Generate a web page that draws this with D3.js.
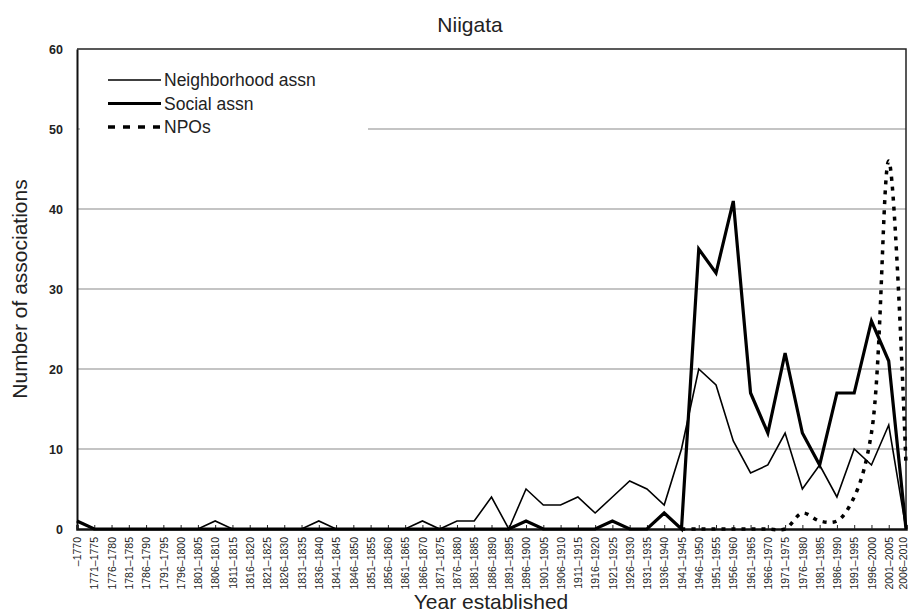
<!DOCTYPE html>
<html>
<head>
<meta charset="utf-8">
<script src="https://cdn.jsdelivr.net/npm/d3@7"></script>
<style>
  html, body { margin: 0; padding: 0; background: #fff; }
  svg { display: block; }
  text { font-family: Arial, "Liberation Sans", Helvetica, sans-serif; fill: #222; }
</style>
</head>
<body>
<svg id="chart" width="908" height="612"></svg>
<script>
const title = "Niigata";
const xTitle = "Year established";
const yTitle = "Number of associations";

const categories = [
  "–1770", "1771–1775", "1776–1780", "1781–1785", "1786–1790", "1791–1795", "1796–1800",
  "1801–1805", "1806–1810", "1811–1815", "1816–1820", "1821–1825", "1826–1830", "1831–1835",
  "1836–1840", "1841–1845", "1846–1850", "1851–1855", "1856–1860", "1861–1865", "1866–1870",
  "1871–1875", "1876–1880", "1881–1885", "1886–1890", "1891–1895", "1896–1900", "1901–1905",
  "1906–1910", "1911–1915", "1916–1920", "1921–1925", "1926–1930", "1931–1935", "1936–1940",
  "1941–1945", "1946–1950", "1951–1955", "1956–1960", "1961–1965", "1966–1970", "1971–1975",
  "1976–1980", "1981–1985", "1986–1990", "1991–1995", "1996–2000", "2001–2005", "2006–2010"
];

const neighborhoodAssn = [
  1, 0, 0, 0, 0, 0, 0, 0, 1, 0, 0, 0, 0, 0, 1, 0, 0, 0, 0, 0, 1, 0, 1, 1, 4,
  0, 5, 3, 3, 4, 2, 4, 6, 5, 3, 10, 20, 18, 11, 7, 8, 12, 5, 8, 4, 10, 8, 13, 0
];

const socialAssn = [
  1, 0, 0, 0, 0, 0, 0, 0, 0, 0, 0, 0, 0, 0, 0, 0, 0, 0, 0, 0, 0, 0, 0, 0, 0,
  0, 1, 0, 0, 0, 0, 1, 0, 0, 2, 0, 35, 32, 41, 17, 12, 22, 12, 8, 17, 17, 26, 21, 0
];

const npos = [
  null, null, null, null, null, null, null, null, null, null, null, null, null, null, null,
  null, null, null, null, null, null, null, null, null, null, null, null, null, null, null,
  null, null, null, null, null, 0, 0, 0, 0, 0, 0, 0, 2, 1, 1, 4, 12, 46, 8
];

const yTicks = [0, 10, 20, 30, 40, 50, 60];
const seriesNames = ["Neighborhood assn", "Social assn", "NPOs"];

const svg = d3.select("#chart");
const L = 77, R = 906, T = 49, B = 529;

const x = d3.scalePoint().domain(categories).range([L, R]);
const y = d3.scaleLinear().domain([0, 60]).range([B, T]);

// gridlines
svg.append("g").selectAll("line")
  .data(yTicks.filter(d => d > 0 && d < 60))
  .join("line")
  .attr("x1", L).attr("x2", R)
  .attr("y1", d => y(d)).attr("y2", d => y(d))
  .attr("stroke", "#8a8a8a").attr("stroke-width", 1.2);

// frame (top, right)
svg.append("path")
  .attr("d", `M${L},${T}H${R}V${B}`)
  .attr("fill", "none").attr("stroke", "#222").attr("stroke-width", 1.5);

// y axis
const yAxis = d3.axisLeft(y).tickValues(yTicks).tickSize(0).tickPadding(14);
const gy = svg.append("g").attr("transform", `translate(${L},0)`).call(yAxis);
gy.select(".domain").attr("stroke", "#111").attr("stroke-width", 2);
gy.selectAll("text").attr("font-size", 12.5).attr("font-weight", "bold").attr("fill", "#333")
  .attr("font-family", "Arial, 'Liberation Sans', sans-serif");

// x axis
const xAxis = d3.axisBottom(x).tickSize(-4).tickPadding(0);
const gx = svg.append("g").attr("transform", `translate(0,${B})`).call(xAxis);
gx.select(".domain").attr("stroke", "#111").attr("stroke-width", 2.5);
gx.selectAll(".tick line").attr("stroke", "#222").attr("stroke-width", 1);
gx.selectAll("text")
  .attr("font-size", 10.5)
  .attr("fill", "#222")
  .attr("font-family", "Arial, 'Liberation Sans', sans-serif")
  .attr("text-anchor", "end")
  .attr("dy", "0.35em")
  .attr("transform", (d, i) => `translate(${i === categories.length - 1 ? -3 : 0},8) rotate(-90)`)
  .attr("x", 0).attr("y", 0);

// legend background
svg.append("rect").attr("x", 80).attr("y", 62).attr("width", 288).attr("height", 76)
  .attr("fill", "#fff");

// lines
const lineGen = d3.line()
  .x((d, i) => x(categories[i]))
  .y(d => y(d));

svg.append("path").datum(neighborhoodAssn)
  .attr("d", lineGen)
  .attr("fill", "none").attr("stroke", "#000").attr("stroke-width", 1.6)
  .attr("stroke-linejoin", "miter");

svg.append("path").datum(socialAssn)
  .attr("d", lineGen)
  .attr("fill", "none").attr("stroke", "#000").attr("stroke-width", 3.2)
  .attr("stroke-linejoin", "miter");

const npoLine = d3.line()
  .defined(d => d != null)
  .x((d, i) => x(categories[i]))
  .y(d => y(d))
  .curve(d3.curveCatmullRom.alpha(0.5));

svg.append("path").datum(npos)
  .attr("d", npoLine)
  .attr("fill", "none").attr("stroke", "#000").attr("stroke-width", 3.5)
  .attr("stroke-dasharray", "4,6");

// legend
const legendRows = [
  { name: seriesNames[0], w: 1.6, dash: null },
  { name: seriesNames[1], w: 3.2, dash: null },
  { name: seriesNames[2], w: 3.5, dash: "7,8" }
];
const lg = svg.append("g");
legendRows.forEach((r, i) => {
  const ly = 80 + i * 23.5;
  lg.append("line").attr("x1", 108).attr("x2", 161).attr("y1", ly).attr("y2", ly)
    .attr("stroke", "#000").attr("stroke-width", r.w)
    .attr("stroke-dasharray", r.dash);
  lg.append("text").attr("x", 164).attr("y", ly + 6)
    .attr("font-size", 17.5).text(r.name);
});

// titles
svg.append("text").attr("x", 470).attr("y", 32).attr("text-anchor", "middle")
  .attr("font-size", 21).text(title);
svg.append("text").attr("x", 491).attr("y", 609).attr("text-anchor", "middle")
  .attr("font-size", 21).text(xTitle);
svg.append("text").attr("transform", `translate(27,${(T + B) / 2}) rotate(-90)`)
  .attr("text-anchor", "middle").attr("font-size", 21).text(yTitle);
</script>
</body>
</html>
